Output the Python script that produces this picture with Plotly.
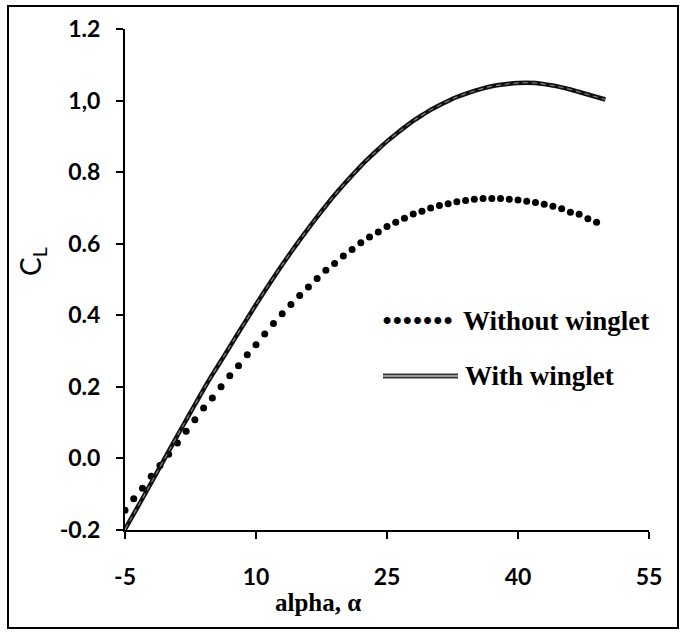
import plotly.graph_objects as go

# Angle of attack (deg) and lift coefficient for the two wing configurations
alpha_without = [-5, -4, -3, -2, -1, 0, 1, 2, 3, 4, 5, 6, 7, 8, 9, 10, 11, 12, 13, 14,
                 15, 16, 17, 18, 19, 20, 21, 22, 23, 24, 25, 26, 27, 28, 29, 30, 31, 32,
                 33, 34, 35, 36, 37, 38, 39, 40, 41, 42, 43, 44, 45, 46, 47, 48, 49]
cl_without = [-0.145, -0.113, -0.083, -0.050, -0.020, 0.012, 0.043, 0.076, 0.108, 0.141,
              0.169, 0.200, 0.231, 0.259, 0.290, 0.318, 0.348, 0.377, 0.404, 0.430,
              0.455, 0.479, 0.503, 0.526, 0.545, 0.566, 0.584, 0.603, 0.619, 0.633,
              0.648, 0.660, 0.671, 0.683, 0.691, 0.700, 0.707, 0.712, 0.717, 0.721,
              0.724, 0.726, 0.726, 0.726, 0.724, 0.722, 0.719, 0.715, 0.710, 0.705,
              0.698, 0.688, 0.682, 0.670, 0.660]

alpha_with = [-5, -4, -3, -2, -1, 0, 1, 2, 3, 4, 5, 6, 7, 8, 9, 10, 11, 12, 13, 14, 15,
              16, 17, 18, 19, 20, 21, 22, 23, 24, 25, 26, 27, 28, 29, 30, 31, 32, 33, 34,
              35, 36, 37, 38, 39, 40, 41, 42, 43, 44, 45, 46, 47, 48, 49, 50]
cl_with = [-0.198, -0.155, -0.112, -0.068, -0.024, 0.020, 0.064, 0.107, 0.150, 0.193,
           0.234, 0.273, 0.312, 0.352, 0.391, 0.430, 0.468, 0.505, 0.541, 0.576, 0.610,
           0.643, 0.675, 0.706, 0.736, 0.764, 0.791, 0.817, 0.841, 0.864, 0.886, 0.906,
           0.925, 0.943, 0.959, 0.974, 0.987, 0.999, 1.010, 1.019, 1.027, 1.034, 1.040,
           1.044, 1.047, 1.049, 1.050, 1.049, 1.046, 1.042, 1.037, 1.031, 1.024, 1.017,
           1.010, 1.003]

x_ticks = [-5, 10, 25, 40, 55]
x_tick_text = ["-5", "10", "25", "40", "55"]
y_ticks = [-0.2, 0.0, 0.2, 0.4, 0.6, 0.8, 1.0, 1.2]
y_tick_text = ["-0.2", "0.0", "0.2", "0.4", "0.6", "0.8", "1,0", "1.2"]

TICK_FONT = dict(family="Lato", size=23, color="black", weight="bold")
SERIF_FONT = dict(family="Liberation Serif", size=27, color="black", weight="bold")

fig = go.Figure()

# Dotted series: without winglet
fig.add_trace(go.Scatter(
    x=alpha_without, y=cl_without, mode="markers",
    marker=dict(color="black", size=7), showlegend=False,
))

# Double-stroke series: with winglet (dark outer stroke, speckled inner stroke)
fig.add_trace(go.Scatter(
    x=alpha_with, y=cl_with, mode="lines",
    line=dict(color="#111111", width=4.5, shape="spline"), showlegend=False,
))
fig.add_trace(go.Scatter(
    x=alpha_with, y=cl_with, mode="lines",
    line=dict(color="#8a8a8a", width=1.1, shape="spline", dash="5px,4px"),
    showlegend=False,
))

W, H = 683, 633
ML, MR, MT, MB = 125, 34, 29, 103
pw, ph = W - ML - MR, H - MT - MB


def px_to_paper(px, py):
    return (px - ML) / pw, (H - MB - py) / ph


shapes = []
# Outer frame around the whole figure
x0, y0 = px_to_paper(8, 628)
x1, y1 = px_to_paper(678, 6)
shapes.append(dict(type="rect", xref="paper", yref="paper", x0=x0, y0=y0, x1=x1, y1=y1,
                   line=dict(color="black", width=2), layer="above"))

# Legend sample for the double-stroke series
lx0, ly = px_to_paper(383, 376)
lx1, _ = px_to_paper(458, 376)
shapes.append(dict(type="line", xref="paper", yref="paper", x0=lx0, x1=lx1, y0=ly, y1=ly,
                   line=dict(color="#333333", width=5)))
shapes.append(dict(type="line", xref="paper", yref="paper", x0=lx0, x1=lx1, y0=ly, y1=ly,
                   line=dict(color="#999999", width=2)))

annotations = []
# Legend sample for the dotted series and legend texts
dx, dy = px_to_paper(380, 321)
annotations.append(dict(xref="paper", yref="paper", x=dx, y=dy, xanchor="left", yanchor="middle",
                        text="•••••••", showarrow=False,
                        font=dict(family="Liberation Serif", size=29, color="black")))
tx, ty = px_to_paper(461, 321)
annotations.append(dict(xref="paper", yref="paper", x=tx, y=ty, xanchor="left", yanchor="middle",
                        text="Without winglet", showarrow=False, font=SERIF_FONT))
tx, ty = px_to_paper(463, 376)
annotations.append(dict(xref="paper", yref="paper", x=tx, y=ty, xanchor="left", yanchor="middle",
                        text="With winglet", showarrow=False, font=SERIF_FONT))

# Axis titles
ax_x, ax_y = px_to_paper(318, 602)
annotations.append(dict(xref="paper", yref="paper", x=ax_x, y=ax_y, xanchor="center",
                        yanchor="middle", text="alpha, α", showarrow=False,
                        font=dict(family="Liberation Serif", size=25, color="black",
                                  weight="bold")))
ay_x, ay_y = px_to_paper(32, 262)
annotations.append(dict(xref="paper", yref="paper", x=ay_x, y=ay_y, xanchor="center",
                        yanchor="middle", text="C<sub>L</sub>", textangle=-90,
                        showarrow=False,
                        font=dict(family="Lato", size=28, color="black")))

fig.update_layout(
    width=W, height=H,
    margin=dict(l=ML, r=MR, t=MT, b=MB),
    paper_bgcolor="white", plot_bgcolor="white",
    shapes=shapes, annotations=annotations,
    xaxis=dict(range=[-5, 55], tickvals=x_ticks, ticktext=x_tick_text, ticks="outside",
               ticklen=7, tickwidth=1.5, tickcolor="black", showline=True,
               linecolor="black", linewidth=2, showgrid=False, zeroline=False,
               tickfont=TICK_FONT, ticklabelstandoff=18),
    yaxis=dict(range=[-0.2, 1.2], tickvals=y_ticks, ticktext=y_tick_text,
               ticks="outside", ticklen=7, tickwidth=1.5, tickcolor="black",
               showline=True, linecolor="black", linewidth=2, showgrid=False,
               zeroline=False, tickfont=TICK_FONT, ticklabelstandoff=11),
)

fig.write_html("out.html")
